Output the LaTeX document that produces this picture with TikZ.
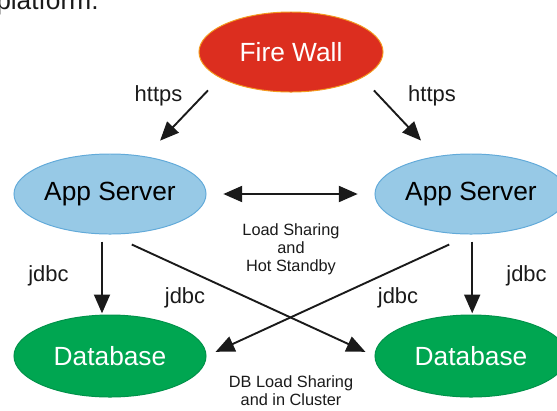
\documentclass[tikz,border=0pt]{standalone}
\usepackage{fontspec}
\setmainfont{Liberation Sans}
\usetikzlibrary{shapes.geometric,arrows.meta}
\definecolor{fwred}{HTML}{DC2E1F}
\definecolor{fwedge}{HTML}{F39A1E}
\definecolor{appblue}{HTML}{97C9E6}
\definecolor{appedge}{HTML}{62AAD9}
\definecolor{dbgreen}{HTML}{00A651}
\definecolor{dbedge}{HTML}{00924A}
\definecolor{ink}{HTML}{1A1A1A}

\begin{document}
\begin{tikzpicture}[x=0.025cm,y=-0.025cm,>={Triangle[length=0.47cm,width=0.4cm]}]
	\useasboundingbox (0,0) rectangle (557,410);
	\tikzstyle{bigtxt}=[font=\fontsize{18.7}{22}\selectfont]
	\tikzstyle{lbl}=[anchor=base,inner sep=0pt,text=ink,font=\fontsize{15.6}{18}\selectfont]
	\tikzstyle{note}=[anchor=south,inner sep=0pt,align=center,text=ink,font=\fontsize{11.6}{12.8}\selectfont]
	\tikzstyle{blob}=[draw,shape=ellipse,inner sep=0pt,line width=0.7pt,minimum width=4.8cm,minimum height=2cm,bigtxt]
	\tikzstyle{wire}=[draw=ink,line width=1.35pt]
		\path (-4,9) node[bigtxt,anchor=base west,inner sep=0pt,text=ink] (intro) {platform.};
		% servers and databases
		\path (291,52) node[blob,fill=fwred,draw=fwedge,text=white,minimum width=4.6cm] (fw) {Fire Wall};
		\path (110,194) node[blob,fill=appblue,draw=appedge] (as1) {App Server};
		\path (471,194) node[blob,fill=appblue,draw=appedge] (as2) {App Server};
		\path (110,356) node[blob,fill=dbgreen,draw=dbedge,text=white,minimum height=2.05cm] (db1) {Database};
		\path (471,356) node[blob,fill=dbgreen,draw=dbedge,text=white,minimum height=2.05cm] (db2) {Database};
		% labels
		\path (158.5,101) node[lbl] (h1) {https};
		\path (432,101) node[lbl] (h2) {https};
		\path (48.5,281) node[lbl] (j1) {jdbc};
		\path (185,303) node[lbl] (j2) {jdbc};
		\path (398,303) node[lbl] (j3) {jdbc};
		\path (526.5,281) node[lbl] (j4) {jdbc};
		\path (291,275.5) node[note] (share) {Load Sharing\\and\\Hot Standby};
		\path (291,406) node[note] (dbshare) {DB Load Sharing\\and in Cluster};
		% arrows
		\draw[wire,->,shorten <=0.43cm,shorten >=0.54cm] (fw.200) -- (as1.47);
		\draw[wire,->,shorten <=0.43cm,shorten >=0.54cm] (fw.340) -- (as2.133);
		\draw[wire,<->,shorten <=0.42cm,shorten >=0.42cm] (as1) -- (as2);
		\draw[wire,->,shorten <=0.18cm,shorten >=0.03cm] ([xshift=-0.2cm]as1.south) -- ([xshift=-0.2cm]db1.north);
		\draw[wire,->,shorten <=0.18cm,shorten >=0.03cm] ([xshift=0.03cm]as2.south) -- ([xshift=0.03cm]db2.north);
		\draw[wire,->,shorten <=0.6cm,shorten >=0.25cm] (as1.south) -- (db2.west);
		\draw[wire,->,shorten <=0.6cm,shorten >=0.25cm] (as2.south) -- (db1.east);
	\end{tikzpicture}
\end{document}
